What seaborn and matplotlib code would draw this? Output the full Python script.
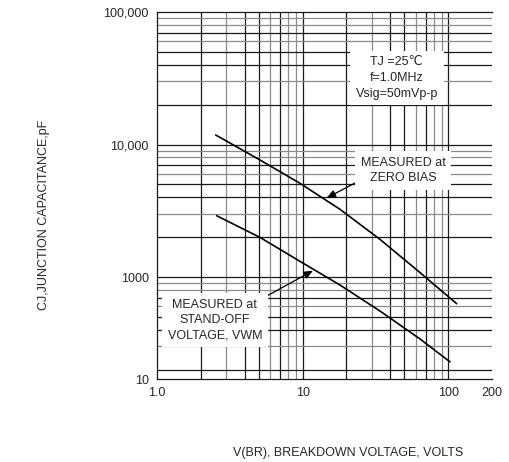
import matplotlib
matplotlib.use("Agg")
import matplotlib.pyplot as plt
import pandas as pd
import seaborn as sns

# curves (V, pF)
zero_bias_v = [2.53, 5.10, 9.60, 18.07, 34.0, 64.0, 114.4]
zero_bias_pf = [11800, 7640, 5096, 3243, 1925, 1081, 629]
standoff_v = [2.57, 5.10, 9.60, 18.07, 34.0, 64.0, 102.9]
standoff_pf = [2901, 1991, 1313, 870, 554, 341, 229]

x_ticks = [1, 10, 100, 200]
x_tick_labels = ["1.0", "10", "100", "200"]
y_ticks = [170, 1000, 10000, 100000]
y_tick_labels = ["10", "1000", "10,000", "100,000"]

frame = pd.DataFrame({
    "v": zero_bias_v + standoff_v,
    "c": zero_bias_pf + standoff_pf,
    "curve": ["zero"] * len(zero_bias_v) + ["standoff"] * len(standoff_v),
})

sns.set_style("white")
plt.rcParams["font.family"] = ["Liberation Sans", "DejaVu Sans"]
plt.rcParams["font.size"] = 9

fig = plt.figure(figsize=(5.09, 4.62), dpi=100)
ax = fig.add_axes([157 / 509, 1 - 379 / 462, 335 / 509, 367 / 462])

sns.lineplot(data=frame, x="v", y="c", hue="curve", palette=["black", "black"],
             estimator=None, sort=False, legend=False, linewidth=1.2, ax=ax, zorder=3)
ax.set_xscale("log")
ax.set_yscale("log")
ax.set_xlim(1, 200)
ax.set_ylim(170, 100000)

# datasheet grid: black and grey lines, vertical ones stop at 100
grey_steps = [3, 6, 8, 9]
for base in [1, 10]:
    for m in range(2, 10):
        ax.axvline(m * base, color="#8a8a8a" if m in grey_steps else "#1a1a1a", lw=0.9, zorder=1)
ax.axvline(10, color="#1a1a1a", lw=0.9, zorder=1)
ax.axvline(100, color="#1a1a1a", lw=0.9, zorder=1)
for base in [100, 1000, 10000]:
    for m in range(1, 10):
        v = m * base
        if v > 170:
            ax.axhline(v, color="#8a8a8a" if m in grey_steps else "#1a1a1a", lw=0.9, zorder=1)

ax.set_xticks(x_ticks)
ax.set_xticklabels(x_tick_labels)
ax.set_yticks(y_ticks)
ax.set_yticklabels(y_tick_labels)
ax.minorticks_off()
ax.tick_params(length=0, pad=6, labelsize=9)

for side in ["left", "bottom", "top"]:
    ax.spines[side].set_color("#1a1a1a")
    ax.spines[side].set_linewidth(0.9)
ax.spines["right"].set_visible(False)

ax.set_xlabel("V(BR), BREAKDOWN VOLTAGE, VOLTS", fontsize=9)
ax.set_ylabel("CJ,JUNCTION CAPACITANCE,pF", fontsize=9)
ax.xaxis.set_label_coords(0.57, -0.185)
ax.yaxis.set_label_coords(-0.318, 0.447)

box = dict(facecolor="white", edgecolor="none", boxstyle="square,pad=0.45")

ax.text(44.3, 31750, "TJ =25℃\nf=1.0MHz\nVsig=50mVp-p", ha="center", va="center",
        linespacing=1.4, bbox=box, zorder=4)

ax.annotate("MEASURED at\nZERO BIAS", xy=(14.6, 3945), xytext=(49.2, 6370),
            ha="center", va="center", linespacing=1.35, bbox=box, zorder=4,
            arrowprops=dict(arrowstyle="-|>,head_length=0.6,head_width=0.25", color="black",
                            lw=0.9, relpos=(0.12, 0.35), shrinkA=0, shrinkB=0))

ax.annotate("MEASURED at\nSTAND-OFF\nVOLTAGE, VWM", xy=(11.8, 1117), xytext=(2.5, 473),
            ha="center", va="center", linespacing=1.4, bbox=box, zorder=4,
            arrowprops=dict(arrowstyle="-|>,head_length=0.6,head_width=0.25", color="black",
                            lw=0.9, relpos=(1.0, 1.0), shrinkA=0, shrinkB=0))

fig.savefig("out.png", dpi=100)
plt.close(fig)
